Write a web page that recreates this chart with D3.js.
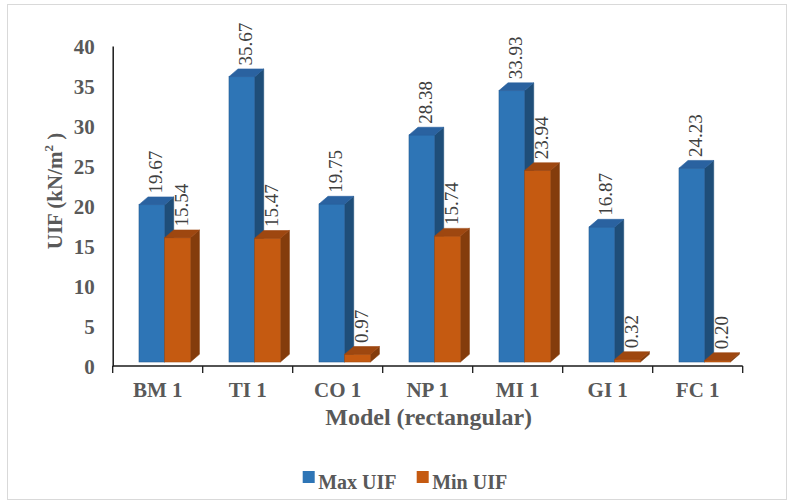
<!DOCTYPE html>
<html>
<head>
<meta charset="utf-8">
<script src="https://cdn.jsdelivr.net/npm/d3@7"></script>
<style>
  html, body { margin: 0; padding: 0; background: #ffffff; }
  svg { display: block; }
  text { font-family: "Liberation Serif", "Times New Roman", serif; }
</style>
</head>
<body>
<svg id="chart" width="788" height="501"></svg>
<script>
// Uplift force per model, rectangular cross-section
const categories = ["BM 1", "TI 1", "CO 1", "NP 1", "MI 1", "GI 1", "FC 1"];
const maxUIF = [19.67, 35.67, 19.75, 28.38, 33.93, 16.87, 24.23];
const minUIF = [15.54, 15.47, 0.97, 15.74, 23.94, 0.32, 0.20];
const seriesNames = ["Max UIF", "Min UIF"];
const yTicks = [0, 5, 10, 15, 20, 25, 30, 35, 40];

const series = [
  { name: seriesNames[0], values: maxUIF, front: "#2e75b6", side: "#1f4e79", top: "#2a62a0", edge: "#23598f" },
  { name: seriesNames[1], values: minUIF, front: "#c55a11", side: "#843c0c", top: "#9e4710", edge: "#a24a0e" }
];

const svg = d3.select("#chart");

// outer frame
svg.append("rect")
  .attr("x", 7.5).attr("y", 4.5).attr("width", 779).attr("height", 495)
  .attr("fill", "#ffffff").attr("stroke", "#d9d9d9").attr("stroke-width", 1);

const plot = { left: 112.7, right: 742.7, top: 46, bottom: 366 };

const x = d3.scaleBand().domain(categories).range([plot.left, plot.right]).padding(0);
const y = d3.scaleLinear().domain([0, 40]).range([plot.bottom, plot.top]);

// 3D extrusion of each column
const depthX = 9, depthY = -7.7, lift = 4;
const barOffset = 26.3, barWidth = 25.7;

const g = svg.append("g");

categories.forEach((cat, i) => {
  series.forEach((s, j) => {
    const v = s.values[i];
    const x0 = x(cat) + barOffset + j * barWidth;
    const x1 = x0 + barWidth;
    const yb = y(0) - lift;
    const yt = y(v) - lift;
    const bar = g.append("g");
    // side face
    bar.append("polygon")
      .attr("points", [[x1, yt], [x1 + depthX, yt + depthY], [x1 + depthX, yb + depthY], [x1, yb]].join(" "))
      .attr("fill", s.side).attr("stroke", s.side).attr("stroke-width", 0.6);
    // front face
    bar.append("rect")
      .attr("x", x0).attr("y", yt).attr("width", barWidth).attr("height", Math.max(0, yb - yt))
      .attr("fill", s.front).attr("stroke", s.edge).attr("stroke-width", 0.6);
    // top face
    bar.append("polygon")
      .attr("points", [[x0, yt], [x0 + depthX, yt + depthY], [x1 + depthX, yt + depthY], [x1, yt]].join(" "))
      .attr("fill", s.top).attr("stroke", s.top).attr("stroke-width", 0.6);
  });
});

// value labels, rotated, above each column
const fmt = d3.format(".2f");
categories.forEach((cat, i) => {
  series.forEach((s, j) => {
    const v = s.values[i];
    const x0 = x(cat) + barOffset + j * barWidth;
    const cx = x0 + barWidth / 2 + 3.5;
    const ty = y(v) - lift + depthY - 3.5;
    g.append("text")
      .attr("transform", `translate(${cx + 6.5},${ty}) rotate(-90)`)
      .attr("text-anchor", "start")
      .attr("font-size", 19)
      .attr("fill", "#404040")
      .text(fmt(v));
  });
});

// y axis
const yAxis = d3.axisLeft(y).tickValues(yTicks).tickSize(0).tickPadding(18);
const ya = svg.append("g").attr("transform", `translate(${plot.left},0)`).call(yAxis);
ya.select(".domain").attr("stroke", "#1a1a1a").attr("stroke-width", 1.5);
ya.selectAll("text")
  .attr("font-family", "'Liberation Serif', 'Times New Roman', serif")
  .attr("font-size", 21).attr("font-weight", "bold").attr("fill", "#595959")
  .attr("dy", "0.38em");

// x axis with ticks at category boundaries
const xa = svg.append("g").attr("transform", `translate(0,${plot.bottom})`);
xa.append("line")
  .attr("x1", plot.left).attr("x2", plot.right)
  .attr("stroke", "#1a1a1a").attr("stroke-width", 1.5);
const bounds = categories.map(c => x(c)).concat([plot.right]);
xa.selectAll("line.tick").data(bounds).join("line")
  .attr("class", "tick")
  .attr("x1", d => d).attr("x2", d => d).attr("y1", 0).attr("y2", 7)
  .attr("stroke", "#1a1a1a").attr("stroke-width", 1.3);
xa.selectAll("text.cat").data(categories).join("text")
  .attr("class", "cat")
  .attr("x", d => x(d) + x.bandwidth() / 2).attr("y", 31)
  .attr("text-anchor", "middle")
  .attr("font-size", 21).attr("font-weight", "bold").attr("fill", "#595959")
  .text(d => d);

// axis titles
svg.append("text")
  .attr("x", (plot.left + plot.right) / 2 + 1).attr("y", 425)
  .attr("text-anchor", "middle")
  .attr("font-size", 24).attr("font-weight", "bold").attr("fill", "#595959")
  .text("Model (rectangular)");

const yt = svg.append("text")
  .attr("transform", "translate(62,191) rotate(-90)")
  .attr("text-anchor", "middle")
  .attr("font-size", 21).attr("font-weight", "bold").attr("fill", "#595959");
yt.append("tspan").text("UIF (kN/m");
yt.append("tspan").attr("font-size", 13).attr("dy", -9).text("2");
yt.append("tspan").attr("dy", 9).text(" )");

// legend
const legend = svg.append("g");
const legendX = [302.7, 416.7];
series.forEach((s, j) => {
  legend.append("rect")
    .attr("x", legendX[j]).attr("y", 471).attr("width", 12).attr("height", 12)
    .attr("fill", s.front);
  legend.append("text")
    .attr("x", legendX[j] + 15.5).attr("y", 489)
    .attr("font-size", 20).attr("font-weight", "bold").attr("fill", "#595959")
    .text(s.name);
});
</script>
</body>
</html>
